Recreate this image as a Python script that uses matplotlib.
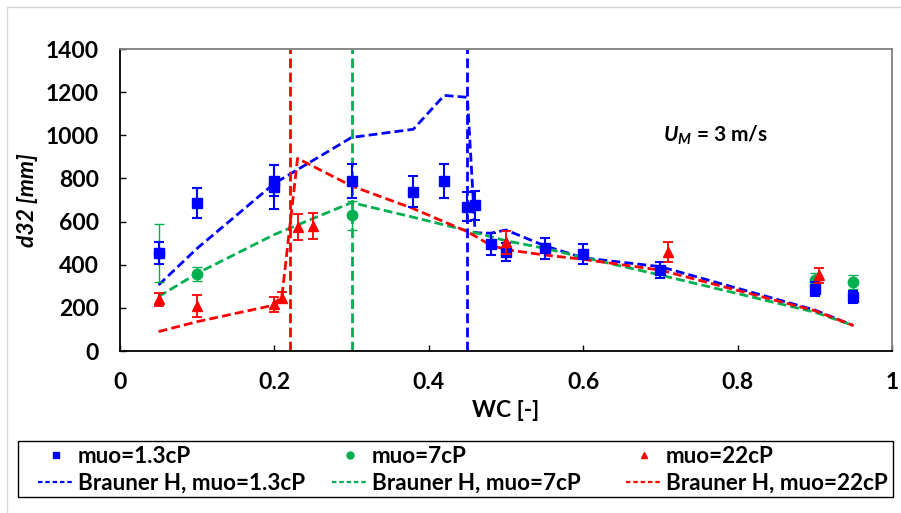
import matplotlib
matplotlib.use('Agg')
import matplotlib.pyplot as plt
from matplotlib.lines import Line2D
from matplotlib.patches import Rectangle

plt.rcParams['font.family'] = ['Lato', 'DejaVu Sans']
plt.rcParams['font.weight'] = 'bold'
plt.rcParams['mathtext.fontset'] = 'custom'
plt.rcParams['mathtext.bfit'] = 'Lato:bold:italic'
plt.rcParams['mathtext.it'] = 'Lato:bold:italic'

# measured d32 with error bars
x_b = [0.05, 0.1, 0.2, 0.2, 0.3, 0.38, 0.42, 0.45, 0.46, 0.48, 0.5, 0.55, 0.6, 0.7, 0.9, 0.95]
y_b = [455, 687, 790, 760, 788, 738, 788, 669, 675, 497, 459, 476, 450, 375, 287, 252]
e_b = [50, 70, 72, 100, 80, 72, 78, 68, 68, 52, 41, 48, 45, 37, 32, 28]

x_g = [0.05, 0.1, 0.3, 0.9, 0.95]
y_g = [456, 357, 629, 329, 320]
e_g = [135, 33, 66, 31, 31]

x_r = [0.05, 0.1, 0.2, 0.21, 0.23, 0.25, 0.5, 0.71, 0.905]
y_r = [240, 209, 216, 247, 573, 580, 504, 460, 352]
e_r = [30, 50, 36, 25, 60, 60, 54, 46, 35]

# Brauner H model
xm_b = [0.05, 0.1, 0.2, 0.3, 0.38, 0.42, 0.45, 0.46, 0.48, 0.5, 0.55, 0.6, 0.7, 0.9, 0.95]
ym_b = [306, 476, 777, 990, 1028, 1185, 1176, 548, 546, 561, 488, 432, 391, 190, 118]

xm_g = [0.05, 0.1, 0.2, 0.3, 0.38, 0.45, 0.48, 0.5, 0.55, 0.6, 0.7, 0.9, 0.95]
ym_g = [252, 360, 540, 688, 620, 558, 530, 511, 476, 434, 352, 180, 118]

xm_r = [0.05, 0.1, 0.2, 0.21, 0.23, 0.3, 0.38, 0.45, 0.48, 0.5, 0.55, 0.6, 0.7, 0.9, 0.95]
ym_r = [90, 136, 213, 262, 893, 765, 660, 553, 491, 470, 445, 425, 375, 187, 118]

# phase inversion points
wc_inv = [0.45, 0.3, 0.22]

blue = '#0000ff'
green = '#00b050'
red = '#ff0000'

fig = plt.figure(figsize=(9.01, 5.13), dpi=100)
ax = fig.add_axes([120/901, 1-351/513, 772/901, 302/513])

lw = 2.0
dash = (3.2, 1.5)
ax.plot(xm_b, ym_b, color=blue, lw=lw, dashes=dash, zorder=2)
ax.plot(xm_g, ym_g, color=green, lw=lw, dashes=dash, zorder=2)
ax.plot(xm_r, ym_r, color=red, lw=lw, dashes=dash, zorder=2)
for xv, c in zip(wc_inv, [blue, green, red]):
    ax.plot([xv, xv], [0, 1400], color=c, lw=lw, dashes=(3.5, 1.6), zorder=2)

ax.errorbar(x_b, y_b, yerr=e_b, fmt='s', color=blue, ms=6.5, elinewidth=1.5,
            capsize=3.5, capthick=1.5, zorder=4)
ax.errorbar(x_g, y_g, yerr=e_g, fmt='o', color=green, ms=7.5, elinewidth=1,
            capsize=3.5, capthick=1, zorder=3)
ax.errorbar(x_r, y_r, yerr=e_r, fmt='^', color=red, ms=7.5, elinewidth=1.3,
            capsize=3.5, capthick=1.3, zorder=5)

ax.set_xlim(0, 1)
ax.set_ylim(0, 1400)
ax.set_xticks([0, 0.2, 0.4, 0.6, 0.8, 1])
ax.set_xticklabels(['0', '0.2', '0.4', '0.6', '0.8', '1'])
ax.set_yticks(range(0, 1401, 200))
ax.tick_params(axis='both', direction='in', length=4, labelsize=16.5, width=1)
ax.tick_params(axis='x', pad=15)
ax.tick_params(axis='y', pad=15)
for s in ['left', 'bottom']:
    ax.spines[s].set_color('black')
    ax.spines[s].set_linewidth(1.3)
for s in ['top', 'right']:
    ax.spines[s].set_color('#808080')
    ax.spines[s].set_linewidth(1.3)

ax.set_xlabel('WC [-]', fontsize=16.5, fontweight='bold', labelpad=5)
ax.set_ylabel('d32 [mm]', fontsize=16.5, fontweight='bold', style='italic', labelpad=6)
ax.text(0.703, 1000, r'$\mathbfit{U_M}$ = 3 m/s', fontsize=15, va='center')

# legend: one column per viscosity, boxed below the axes
labels = ['muo=1.3cP', 'muo=7cP', 'muo=22cP']
markers = ['s', 'o', '^']
colors = [blue, green, red]
col_x = [38, 332, 626]
for lab, mk, c, cx in zip(labels, markers, colors, col_x):
    h = [Line2D([], [], ls='none', marker=mk, color=c, ms=5),
         Line2D([], [], color=c, lw=1.6, dashes=(2, 1.3))]
    fig.legend(h, [lab, 'Brauner H, ' + lab], loc='upper left',
               bbox_to_anchor=(cx/901, 1-446/513), frameon=False, fontsize=16.2,
               handlelength=1.6, handletextpad=0.18, borderaxespad=0,
               borderpad=0, labelspacing=0.26)
fig.add_artist(Rectangle((18/901, 1-497/513), 875/901, 56/513, fill=False,
                         edgecolor='black', lw=1, transform=fig.transFigure))

# chart area border
fig.add_artist(Line2D([7/901, 7/901], [0, 1-7/513], color='#d9d9d9', lw=1))
fig.add_artist(Line2D([7/901, 1], [1-7/513, 1-7/513], color='#d9d9d9', lw=1))

fig.savefig('out.png', dpi=100)
